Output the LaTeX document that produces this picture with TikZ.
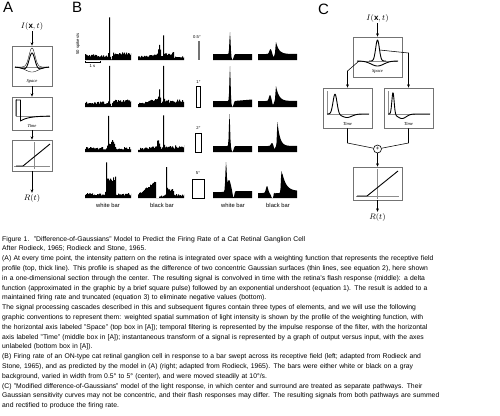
\documentclass[tikz,border=0pt]{standalone}
\usepackage{fontspec}
\setmainfont{Liberation Sans}
\newfontfamily\serifit{Liberation Serif}
\usetikzlibrary{arrows.meta}
\definecolor{boxgray}{gray}{0.45}
\definecolor{axisgray}{gray}{0.55}
\definecolor{bargray}{gray}{0.45}

\tikzset{
  stage/.style={draw=boxgray, line width=0.6pt, fill=white, inner sep=0pt},
  flow/.style={-{Stealth[length=3.4pt, width=2.8pt]}, line width=0.55pt},
  profile/.style={line width=0.9pt, line join=round},
  thinprofile/.style={line width=0.35pt},
  axisline/.style={draw=axisgray, line width=0.4pt},
  axlabel/.style={font=\serifit\itshape\fontsize{4.6}{5}\selectfont, inner sep=0pt},
  sig/.style={font=\fontsize{8}{9}\selectfont, inner sep=1pt},
  panel/.style={font=\fontsize{15}{15}\selectfont, anchor=north west, inner sep=0pt},
  barlabel/.style={font=\fontsize{5.8}{6}\selectfont, inner sep=0pt},
  sizelabel/.style={font=\fontsize{4.2}{4.5}\selectfont, inner sep=0pt},
  declare function={bell(\xv,\cv,\wv)=exp(-(((\xv-\cv)/\wv)^2));
    spk(\xv,\cv,\wv,\tv)=(\xv<\cv)*exp(-(((\xv-\cv)/\wv)^2))+(\xv>=\cv)*exp(-max(0,\xv-\cv)/\tv);}
}

% measured (stepped) and model (smooth) histograms: x0, baseline, height
\newcommand{\datahist}[3]{\fill (#1,#2) -- plot[const plot, domain=0:46, samples=47] ({#1+\x},{#2-max(0,#3)}) -- (#1+46,#2) -- cycle;}
\newcommand{\modelhist}[3]{\fill (#1,#2) -- plot[domain=0:39, samples=79] ({#1+\x},{#2-max(0,#3)}) -- (#1+39,#2) -- cycle;}
\newcommand{\jline}[1]{\makebox[496pt][s]{#1}}

\begin{document}
\begin{tikzpicture}[x=1pt, y=-1pt]
  \fill[white] (0,0) rectangle (500,415);
  \useasboundingbox (0,0) rectangle (500,415);
  \pgfmathsetseed{11}
  \def\bA{60}  \def\bB{107} \def\bC{152} \def\bD{198}
  \def\xA{85}  \def\xB{138} \def\xC{213} \def\xD{258}

  \node[panel] (lblA) at (3,2) {A};
  \node[panel] (lblB) at (72,2) {B};
  \node[panel] (lblC) at (318,4) {C};

  % panel A
  \node[sig] (inA) at (32,26) {$I(\mathbf{x},t)$};
  \node[stage, minimum width=40pt, minimum height=40pt] (spaceA) at (32,66) {};
  \node[stage, minimum width=40pt, minimum height=33pt] (timeA) at (32,113.5) {};
  \node[stage, minimum width=40pt, minimum height=31pt] (rectA) at (32,155.5) {};
  \node[sig] (outA) at (32,198) {$R(t)$};
  \draw[flow] (inA) -- (spaceA);
  \draw[flow] (spaceA) -- (timeA);
  \draw[flow] (timeA) -- (rectA);
  \draw[flow] (rectA) -- (outA);

  \draw[axisline] (15,67) -- (49,67);
  \draw[thinprofile] plot[domain=15:49, samples=60] (\x,{67-19*bell(\x,32,4.2)});
  \draw[thinprofile] plot[domain=15:49, samples=60] (\x,{67+5*bell(\x,32,9)});
  \draw[profile] plot[domain=15:49, samples=60] (\x,{67-19*bell(\x,32,4.2)+5*bell(\x,32,9)});
  \node[axlabel] (spaceAlbl) at (32,81) {Space};

  \draw[axisline] (16,99) -- (16,116) -- (50,116);
  \draw[profile] (16,116) -- (16,100) -- (20.5,100) -- (20.5,121) -- plot[domain=20.5:50, samples=30] (\x,{116+5*exp(-(\x-20.5)/8)});
  \node[axlabel] (timeAlbl) at (32,125.5) {Time};

  \draw[axisline] (14,166) -- (50,166) (34,142) -- (34,169);
  \draw[profile] (16,166) -- (23,166) -- (50,144);

  % panel B
  \node[sizelabel, rotate=90] (spkscale) at (78,44) {50 spikes/s};
  \draw[line width=0.5pt] (85,61) -- (85,63) (85,62) -- (100,62) (100,61) -- (100,63);
  \node[sizelabel] (secscale) at (92.5,66.5) {1 s};

  \datahist{\xA}{\bA}{(3+3*rnd)*(1-bell(\x,25.5,1.2))+40*bell(\x,24,0.6)+2*(\x>27.5)}
  \datahist{\xA}{\bB}{(3+2.5*rnd)*(1-bell(\x,25.5,1.2))+38*bell(\x,24,0.6)+2*(\x>27.5)}
  \datahist{\xA}{\bC}{(2.5+2.5*rnd)+32*bell(\x,23,0.6)+(6+4*rnd)*bell(\x,27,2.5)}
  \datahist{\xA}{\bD}{(2.5+2.5*rnd)+33*bell(\x,21,0.6)+(14+4*rnd)*(\x>21.5)*(\x<30.5)}

  \datahist{\xB}{\bA}{(2+2*rnd)+0.1*\x*(\x<20.5)+13*bell(\x,21,1.2)+22*bell(\x,25,0.6)+(2+2*rnd)*(\x>25.5)*(\x<35.5)}
  \datahist{\xB}{\bB}{(2+2*rnd)+0.25*\x*(\x<19.5)+14*bell(\x,21,1.2)+38*bell(\x,25,0.6)+(2+2*rnd)*(\x>25.5)}
  \datahist{\xB}{\bC}{(2+2*rnd)+0.1*\x*(\x<19.5)+9*bell(\x,20,1.5)+33*bell(\x,25,0.6)+(1+2*rnd)*(\x>25.5)}
  \datahist{\xB}{\bD}{(\x<17.5)*(3+0.7*\x+2*rnd)+(\x>20.5)*(\x<27.5)*(1+2*rnd)+31*bell(\x,28,0.6)+(\x>28.5)*(\x<35.5)*(6+3*rnd)+(\x>35.5)*(2+2*rnd)}

  \modelhist{\xC}{\bA}{6*(1-bell(\x,19.5,1.4))+22*bell(\x,17,0.8)}
  \modelhist{\xC}{\bB}{6*(1-bell(\x,19.5,1.4))+35*bell(\x,17,0.8)+1.5*(\x>21)*(\x-21)/18}
  \modelhist{\xC}{\bC}{6*(1-bell(\x,19.5,1.4))+32*bell(\x,16.5,0.8)}
  \modelhist{\xC}{\bD}{6*(1-bell(\x,20.5,1.2))+1*(\x>21)+27*bell(\x,13,0.9)+12*bell(\x,16,2.5)}

  \modelhist{\xD}{\bA}{6-3*bell(\x,15.5,1)+5*bell(\x,12.5,1.5)+12*spk(\x,18,0.7,3)}
  \modelhist{\xD}{\bB}{6+6*bell(\x,12,1.5)-4*bell(\x,15,1)+15*spk(\x,18,0.7,3)}
  \modelhist{\xD}{\bC}{6+3*bell(\x,14,1.5)-3*bell(\x,16.5,1)+24*spk(\x,19.5,0.7,2.5)}
  \modelhist{\xD}{\bD}{5+7*bell(\x,9,1.5)-5.5*bell(\x,14.5,1.8)+3*bell(\x,16,0.6)+22*spk(\x,23.5,0.8,4)+2*(\x>24)}

  \node[sizelabel] (w05) at (197,37) {0.5°};
  \fill[bargray] (197.5,41) rectangle (199.5,60);
  \node[sizelabel] (w1) at (198.5,82) {1°};
  \draw[line width=0.5pt] (196.5,86) rectangle (200.5,107);
  \node[sizelabel] (w2) at (198.5,128) {2°};
  \draw[line width=0.5pt] (195,133) rectangle (201.5,152);
  \node[sizelabel] (w5) at (198,173.5) {5°};
  \draw[line width=0.5pt] (192,179) rectangle (204,198);

  \node[barlabel] (whiteL) at (108,205) {white bar};
  \node[barlabel] (blackL) at (162,205) {black bar};
  \node[barlabel] (whiteR) at (233,205) {white bar};
  \node[barlabel] (blackR) at (278,205) {black bar};

  % panel C
  \node[sig] (inC) at (377.5,18) {$I(\mathbf{x},t)$};
  \node[stage, minimum width=49pt, minimum height=40pt] (spaceC) at (377.5,57) {};
  \node[stage, minimum width=49pt, minimum height=40pt] (timeCl) at (347.5,108) {};
  \node[stage, minimum width=49pt, minimum height=40pt] (timeCr) at (408.5,108) {};
  \node[circle, draw, line width=0.6pt, minimum size=8pt, inner sep=0pt, font=\fontsize{6}{6}\selectfont] (sumC) at (377.5,149) {+};
  \node[stage, minimum width=49pt, minimum height=33pt] (rectC) at (377.5,183.5) {};
  \node[sig] (outC) at (377.5,217) {$R(t)$};

  \draw[axisline] (357,61) -- (398,61);
  \draw[profile] plot[domain=357:398, samples=50] (\x,{61+5*bell(\x,377.5,9)});
  \draw[profile] plot[domain=369:386, samples=40] (\x,{61-21*bell(\x,377.5,2.6)});
  \node[axlabel] (spaceClbl) at (377.5,71.5) {Space};

  \coordinate (cenC) at (379.6,50);
  \coordinate (surC) at (359,61);
  \coordinate (bendR) at (408.5,53);
  \coordinate (bendL) at (347.5,71);
  \coordinate (joinL) at (347.5,143);
  \coordinate (joinR) at (408.5,143);
  \draw[flow] (inC) -- (spaceC);
  \draw[flow] (cenC) -- (bendR) -- (timeCr);
  \draw[flow] (surC) -- (bendL) -- (timeCl);
  \draw[line width=0.55pt] (timeCl) -- (joinL) -- (sumC);
  \draw[line width=0.55pt] (timeCr) -- (joinR) -- (sumC);
  \draw[flow] (sumC) -- (rectC);
  \draw[flow] (rectC) -- (outC);

  \draw[axisline] (327,91) -- (327,114) -- (369,114);
  \draw[profile] plot[domain=327:369, samples=80] (\x,{114-20*bell(\x,335,2.8)+3.5*bell(\x,347,7)});
  \node[axlabel] (timeCllbl) at (347.5,123.5) {Time};
  \draw[axisline] (388,91) -- (388,114) -- (430,114);
  \draw[profile] plot[domain=388:430, samples=80] (\x,{114-22*bell(\x,393,1.6)+4.5*bell(\x,402,6)});
  \node[axlabel] (timeCrlbl) at (408.5,123.5) {Time};

  \draw[axisline] (356,196) -- (399,196) (377.5,169) -- (377.5,198.5);
  \draw[profile] (357,196) -- (367,196) -- (398,171);

  % caption
  \node[anchor=north west, inner sep=0pt, text width=496pt, align=left, font=\fontsize{6.8}{9.8}\selectfont] (caption) at (2,236) {%
Figure 1.\ \ "Difference-of-Gaussians" Model to Predict the Firing Rate of a Cat Retinal Ganglion Cell\\
After Rodieck, 1965; Rodieck and Stone, 1965.\\
\jline{(A) At every time point, the intensity pattern on the retina is integrated over space with a weighting function that represents the receptive field}\\
\jline{profile (top, thick line). This profile is shaped as the difference of two concentric Gaussian surfaces (thin lines, see equation 2), here shown}\\
\jline{in a one-dimensional section through the center. The resulting signal is convolved in time with the retina's flash response (middle): a delta}\\
\jline{function (approximated in the graphic by a brief square pulse) followed by an exponential undershoot (equation 1). The result is added to a}\\
maintained firing rate and truncated (equation 3) to eliminate negative values (bottom).\\
\jline{The signal processing cascades described in this and subsequent figures contain three types of elements, and we will use the following}\\
\jline{graphic conventions to represent them: weighted spatial summation of light intensity is shown by the profile of the weighting function, with}\\
\jline{the horizontal axis labeled "Space" (top box in [A]); temporal filtering is represented by the impulse response of the filter, with the horizontal}\\
\jline{axis labeled "Time" (middle box in [A]); instantaneous transform of a signal is represented by a graph of output versus input, with the axes}\\
unlabeled (bottom box in [A]).\\
\jline{(B) Firing rate of an ON-type cat retinal ganglion cell in response to a bar swept across its receptive field (left; adapted from Rodieck and}\\
\jline{Stone, 1965), and as predicted by the model in (A) (right; adapted from Rodieck, 1965). The bars were either white or black on a gray}\\
background, varied in width from 0.5° to 5° (center), and were moved steadily at 10°/s.\\
\jline{(C) "Modified difference-of-Gaussians" model of the light response, in which center and surround are treated as separate pathways. Their}\\
\jline{Gaussian sensitivity curves may not be concentric, and their flash responses may differ. The resulting signals from both pathways are summed}\\
and rectified to produce the firing rate.};
\end{tikzpicture}
\end{document}
